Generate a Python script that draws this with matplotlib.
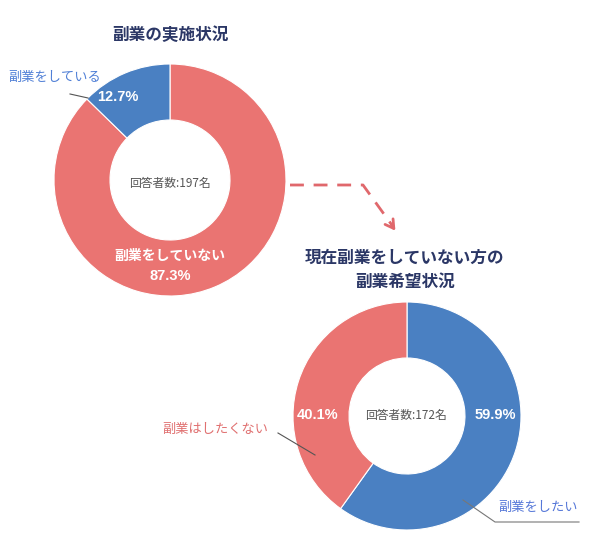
import matplotlib
matplotlib.use('Agg')
import matplotlib.pyplot as plt

plt.rcParams['font.family'] = ['Noto Sans CJK JP', 'DejaVu Sans']

# data
top_title = '副業の実施状況'
top_labels = ['副業をしていない', '副業をしている']
top_values = [87.3, 12.7]
top_n = 197

bottom_title = '現在副業をしていない方の\n副業希望状況'
bottom_labels = ['副業をしたい', '副業はしたくない']
bottom_values = [59.9, 40.1]
bottom_n = 172

red = '#EA7472'
blue = '#4A80C2'
navy = '#2B3766'
H = 545

fig = plt.figure(figsize=(6, 5.45), dpi=100)
ax = fig.add_axes([0, 0, 1, 1])

def y(p):
    # pixel row from top -> axes y
    return H - p

num_font = ['Liberation Sans', 'Noto Sans CJK JP']

# top donut
ax.pie(top_values, colors=[red, blue], startangle=90, counterclock=False,
       center=(170, y(180)), radius=116,
       wedgeprops=dict(width=56, edgecolor='white', linewidth=0.8))

# bottom donut
ax.pie(bottom_values, colors=[blue, red], startangle=90, counterclock=False,
       center=(407, y(416)), radius=114,
       wedgeprops=dict(width=56, edgecolor='white', linewidth=0.8))

# pie() resets the limits, so set them afterwards
ax.set_xlim(0, 600)
ax.set_ylim(0, H)
ax.set_aspect('equal')
ax.axis('off')

ax.text(170, y(35), top_title, ha='center', va='center', fontsize=12,
        fontweight='bold', color=navy)
ax.text(170, y(183), '回答者数:%d名' % top_n, ha='center', va='center',
        fontsize=8.5, color='#555555')
ax.text(170, y(256), top_labels[0], ha='center', va='center', fontsize=10,
        fontweight='bold', color='white')
ax.text(170, y(276), '%.1f%%' % top_values[0], ha='center', va='center',
        fontsize=10.5, fontweight='bold', color='white', family=num_font)
ax.text(118, y(97), '%.1f%%' % top_values[1], ha='center', va='center',
        fontsize=10.5, fontweight='bold', color='white', family=num_font)
ax.text(55, y(78), top_labels[1], ha='center', va='center', fontsize=9.5,
        color='#4F7FD6')
ax.plot([70, 88], [y(94), y(98)], color='#555555', lw=0.8)

# dashed arrow
ax.plot([290, 363, 394], [y(185), y(185), y(228)], color='#E0686C',
        lw=2, dashes=(5, 3.5))
ax.annotate('', xy=(397, y(233)), xytext=(390, y(223)),
            arrowprops=dict(arrowstyle='->,head_length=0.6,head_width=0.35',
                            color='#E0686C', lw=2))

ax.text(405, y(270), bottom_title, ha='center', va='center', fontsize=12,
        fontweight='bold', color=navy, linespacing=1.45)
ax.text(406, y(415), '回答者数:%d名' % bottom_n, ha='center', va='center',
        fontsize=8.5, color='#555555')
ax.text(495, y(415), '%.1f%%' % bottom_values[0], ha='center', va='center',
        fontsize=10.5, fontweight='bold', color='white', family=num_font)
ax.text(318, y(415), '%.1f%%' % bottom_values[1], ha='center', va='center',
        fontsize=10.5, fontweight='bold', color='white', family=num_font)
ax.text(538, y(508), bottom_labels[0], ha='center', va='center',
        fontsize=9.5, color='#5577D8')
ax.plot([463, 495, 579], [y(500), y(522), y(522)], color='#777777', lw=0.8)
ax.text(215, y(429), bottom_labels[1], ha='center', va='center',
        fontsize=9.5, color='#E07070')
ax.plot([278, 315], [y(433), y(455)], color='#555555', lw=0.8)

fig.savefig('out.png', dpi=100, facecolor='white')
